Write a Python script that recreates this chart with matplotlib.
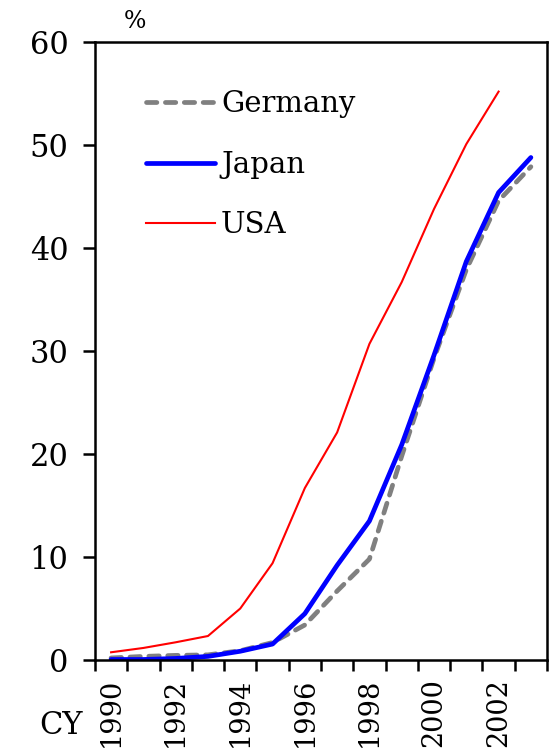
import matplotlib
matplotlib.use("Agg")
import matplotlib.pyplot as plt
import numpy as np

# 年份（1990-2003）与各国比例（%）
years = list(range(1990, 2004))
germany = [0.2, 0.35, 0.45, 0.5, 0.9, 1.7, 3.4, 6.7, 9.8, 19.8, 29.3, 37.9, 44.6, 47.9]
japan = [0.05, 0.05, 0.15, 0.35, 0.85, 1.55, 4.5, 9.2, 13.5, 20.9, 29.6, 38.7, 45.4, 48.8]
usa = [0.75, 1.17, 1.72, 2.33, 5.0, 9.4, 16.7, 22.1, 30.7, 36.7, 43.8, 50.1, 55.2]
yticks = [0, 10, 20, 30, 40, 50, 60]
xtick_labels = [str(y) for y in years[::2]]

plt.rcParams['font.family'] = ['DejaVu Serif']

fig = plt.figure(figsize=(5.52, 7.53), dpi=100)
ax = fig.add_axes([0.172, 0.1235, 0.819, 0.8205])

x = np.arange(len(years))
ax.plot(x, germany, color='#808080', lw=3.4, linestyle=(0, (2.2, 1.8)),
        dash_capstyle='round', label='Germany')
ax.plot(x, japan, color='#0000ff', lw=3.4, solid_capstyle='round', label='Japan')
ax.plot(x[:len(usa)], usa, color='#ff0000', lw=1.5, label='USA')

ax.set_xlim(-0.5, len(years) - 0.5)
ax.set_ylim(0, 60)
ax.set_yticks(yticks)
ax.set_yticklabels([str(v) for v in yticks], fontsize=22)
ax.tick_params(axis='y', direction='out', length=9, width=1.8, pad=10)

# 类别轴：刻度在边界，标签在中心
ax.set_xticks(np.arange(-0.5, len(years), 1.0))
ax.set_xticklabels([])
ax.set_xticks(x[::2], minor=True)
ax.set_xticklabels(xtick_labels, minor=True, rotation=90, fontsize=19.5)
ax.tick_params(axis='x', which='major', direction='out', length=8, width=1.8)
ax.tick_params(axis='x', which='minor', length=0, pad=13)

for s in ax.spines.values():
    s.set_linewidth(1.8)

leg = ax.legend(loc='upper left', bbox_to_anchor=(0.055, 0.965), frameon=False,
                fontsize=21, handlelength=2.35, handletextpad=0.22, labelspacing=1.12)

fig.text(0.245, 0.971, '%', fontsize=17, ha='center', va='center')
fig.text(0.11, 0.036, 'CY', fontsize=22, ha='center', va='center')

fig.savefig('out.png', dpi=100)
